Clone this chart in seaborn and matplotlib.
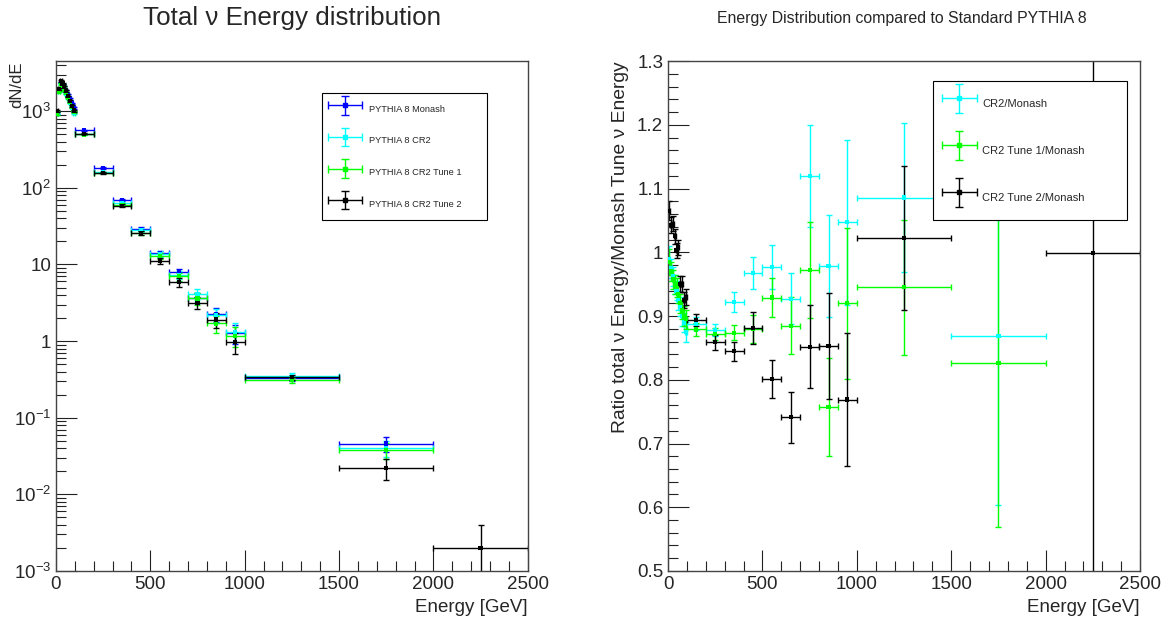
import numpy as np
import matplotlib
matplotlib.use("Agg")
import matplotlib.pyplot as plt
from matplotlib.ticker import LogLocator, MultipleLocator, FixedLocator, FuncFormatter, NullFormatter
from matplotlib.container import ErrorbarContainer
from matplotlib.legend_handler import HandlerErrorbar
import seaborn as sns
import pandas as pd

nan = np.nan

#################################################
#   DATA   --------------------------------------
#################################################
energy = [5, 15, 25, 35, 45, 55, 65, 75, 85, 95,
          150, 250, 350, 450, 550, 650, 750, 850, 950,
          1250, 1750, 2250]
half_width = [5, 5, 5, 5, 5, 5, 5, 5, 5, 5,
              50, 50, 50, 50, 50, 50, 50, 50, 50,
              250, 250, 250]

# dN/dE per generator setting
monash = [950, 1870, 2370, 2240, 2070, 1840, 1640, 1440, 1260, 1100,
          565, 181, 69, 29, 14, 7.9, 3.7, 2.24, 1.27, 0.33, 0.046, nan]
cr2 = [940, 1820, 2280, 2130, 1950, 1700, 1500, 1300, 1120, 960,
       502, 159, 63.6, 28, 13.7, 7.3, 4.1, 2.19, 1.33, 0.355, 0.040, nan]
cr2_tune1 = [935, 1810, 2270, 2130, 1960, 1720, 1510, 1310, 1135, 985,
             497, 158, 60.3, 25.5, 13.0, 7.0, 3.6, 1.70, 1.17, 0.31, 0.038, nan]
cr2_tune2 = [1010, 1950, 2480, 2300, 2080, 1850, 1560, 1370, 1170, 1020,
             505, 155, 58.3, 25.5, 11.2, 5.85, 3.15, 1.91, 0.98, 0.337, 0.022, 0.002]

monash_err = [30, 42, 48, 46, 45, 42, 40, 37, 35, 33,
              7.5, 4.2, 2.6, 1.7, 1.2, 0.9, 0.6, 0.47, 0.36, 0.025, 0.010, nan]
cr2_err = [30, 42, 47, 45, 44, 41, 38, 36, 33, 31,
           7.1, 4.0, 2.5, 1.7, 1.2, 0.85, 0.64, 0.47, 0.37, 0.026, 0.0095, nan]
cr2_tune1_err = [30, 42, 47, 45, 44, 41, 38, 36, 33, 31,
                 7.0, 4.0, 2.5, 1.6, 1.1, 0.84, 0.6, 0.41, 0.34, 0.024, 0.009, nan]
cr2_tune2_err = [31, 44, 50, 48, 45, 43, 39, 37, 34, 32,
                 7.1, 3.9, 2.4, 1.6, 1.1, 0.76, 0.56, 0.44, 0.31, 0.025, 0.0065, 0.002]

# ratios to Monash
ratio_cr2 = [0.99, 0.975, 0.962, 0.95, 0.94, 0.925, 0.915, 0.90, 0.89, 0.875,
             0.888, 0.878, 0.922, 0.967, 0.977, 0.927, 1.12, 0.978, 1.047,
             1.086, 0.869, nan]
ratio_tune1 = [0.985, 0.97, 0.958, 0.95, 0.945, 0.935, 0.92, 0.91, 0.90, 0.895,
               0.879, 0.872, 0.874, 0.88, 0.929, 0.885, 0.972, 0.757, 0.92,
               0.945, 0.826, nan]
ratio_tune2 = [1.065, 1.043, 1.045, 1.025, 1.003, 1.008, 0.95, 0.95, 0.925, 0.93,
               0.894, 0.859, 0.845, 0.881, 0.801, 0.741, 0.852, 0.853, 0.769,
               1.023, nan, 0.999]

ratio_cr2_err = [0.02, 0.015, 0.015, 0.015, 0.015, 0.015, 0.015, 0.015, 0.015, 0.015,
                 0.01, 0.01, 0.015, 0.025, 0.035, 0.04, 0.08, 0.08, 0.13,
                 0.117, 0.265, nan]
ratio_tune1_err = [0.02, 0.015, 0.015, 0.015, 0.015, 0.015, 0.015, 0.015, 0.015, 0.015,
                   0.01, 0.01, 0.012, 0.022, 0.03, 0.045, 0.075, 0.077, 0.118,
                   0.106, 0.257, nan]
ratio_tune2_err = [0.015, 0.012, 0.012, 0.012, 0.012, 0.012, 0.013, 0.013, 0.013, 0.013,
                   0.01, 0.012, 0.015, 0.025, 0.03, 0.04, 0.065, 0.083, 0.105,
                   0.113, nan, 1.0]

left_names = ["PYTHIA 8 Monash", "PYTHIA 8 CR2", "PYTHIA 8 CR2 Tune 1", "PYTHIA 8 CR2 Tune 2"]
left_colors = ["#0000ff", "#00ffff", "#00ff00", "#000000"]
right_names = ["CR2/Monash", "CR2 Tune 1/Monash", "CR2 Tune 2/Monash"]
right_colors = ["#00ffff", "#00ff00", "#000000"]
log_ticks = [1e-3, 1e-2, 1e-1, 1, 10, 100, 1000]

#################################################
#   STYLE    -------------------------------------
#################################################
sns.set_style("ticks")
plt.rcParams['font.family'] = ['Liberation Sans', 'DejaVu Sans']
plt.rcParams['mathtext.fontset'] = 'custom'
plt.rcParams['mathtext.rm'] = 'Liberation Sans'
plt.rcParams['mathtext.it'] = 'Liberation Sans:italic'
plt.rcParams['axes.edgecolor'] = '#444444'
plt.rcParams['axes.linewidth'] = 1.0


def root_ticks(ax):
    ax.tick_params(which='both', direction='in', top=False, right=False,
                   color='#222222', width=0.8, labelsize=13.5)
    ax.tick_params(which='major', length=15)
    ax.tick_params(which='minor', length=7.5)


def draw_series(ax, y_lists, err_lists, names, colors):
    frames = []
    for y, e, name, c in zip(y_lists, err_lists, names, colors):
        ax.errorbar(energy, y, xerr=half_width, yerr=e, fmt='none',
                    ecolor=c, elinewidth=1.0, capsize=2, capthick=1.0, zorder=2)
        # proxy for the legend entry
        ax.errorbar([nan], [nan], xerr=[1], yerr=[1], fmt='s', color=c,
                    ms=3, elinewidth=1.0, capsize=3, capthick=1.0, label=name)
        frames.append(pd.DataFrame({'energy': energy, 'value': y, 'series': name}))
    df = pd.concat(frames, ignore_index=True).dropna()
    sns.scatterplot(data=df, x='energy', y='value', hue='series',
                    palette=dict(zip(names, colors)), hue_order=names,
                    marker='s', s=9, linewidth=0, legend=False, ax=ax, zorder=3)


fig = plt.figure(figsize=(11.65, 6.24), dpi=100)
ax1 = fig.add_axes([0.048, 0.085, 0.405, 0.817])
ax2 = fig.add_axes([0.5734, 0.085, 0.4052, 0.817])

#################################################
#   LEFT: dN/dE    -------------------------------
#################################################
draw_series(ax1, [monash, cr2, cr2_tune1, cr2_tune2],
            [monash_err, cr2_err, cr2_tune1_err, cr2_tune2_err],
            left_names, left_colors)
ax1.set_yscale('log')
ax1.set_xlim(0, 2500)
ax1.set_ylim(1e-3, 4500)
ax1.xaxis.set_major_locator(MultipleLocator(500))
ax1.xaxis.set_minor_locator(MultipleLocator(100))
ax1.yaxis.set_major_locator(FixedLocator(log_ticks))
ax1.yaxis.set_minor_locator(LogLocator(base=10, subs=np.arange(2, 10), numticks=20))
ax1.yaxis.set_minor_formatter(NullFormatter())


def log_fmt(v, pos):
    k = int(round(np.log10(v)))
    if k == 0:
        return '1'
    if k == 1:
        return '10'
    return r'$10^{%d}$' % k


ax1.yaxis.set_major_formatter(FuncFormatter(log_fmt))
root_ticks(ax1)
ax1.set_xlabel('Energy [GeV]', fontsize=13.5, loc='right')
ax1.set_ylabel('dN/dE', fontsize=12, loc='top')
ax1.yaxis.set_label_coords(-0.068, 1.0)
ax1.xaxis.set_label_coords(1.0, -0.055)

leg1 = ax1.legend(loc='upper left', bbox_to_anchor=(0.564, 0.5, 0.3496, 0.437),
                  mode='expand', fontsize=6.7,
                  frameon=True, fancybox=False, edgecolor='black', framealpha=1,
                  labelspacing=1.2, handlelength=3.7, handleheight=3.0,
                  borderpad=0.6, handletextpad=0.8, borderaxespad=0,
                  handler_map={ErrorbarContainer: HandlerErrorbar(xerr_size=1.85, yerr_size=1.0)})
leg1.get_frame().set_linewidth(0.8)

#################################################
#   RIGHT: ratios    -----------------------------
#################################################
draw_series(ax2, [ratio_cr2, ratio_tune1, ratio_tune2],
            [ratio_cr2_err, ratio_tune1_err, ratio_tune2_err],
            right_names, right_colors)
ax2.set_xlim(0, 2500)
ax2.set_ylim(0.5, 1.3)
ax2.xaxis.set_major_locator(MultipleLocator(500))
ax2.xaxis.set_minor_locator(MultipleLocator(100))
ax2.yaxis.set_major_locator(MultipleLocator(0.1))
ax2.yaxis.set_minor_locator(MultipleLocator(0.02))
ax2.yaxis.set_major_formatter(FuncFormatter(lambda v, p: '%g' % round(v, 2)))
root_ticks(ax2)
ax2.set_xlabel('Energy [GeV]', fontsize=13.5, loc='right')
ax2.set_ylabel('Ratio total \u03bd Energy/Monash Tune \u03bd Energy', fontsize=13.9, loc='top')
ax2.yaxis.set_label_coords(-0.082, 1.0)
ax2.xaxis.set_label_coords(1.0, -0.055)

leg2 = ax2.legend(loc='upper left', bbox_to_anchor=(0.5614, 0.5, 0.411, 0.461),
                  mode='expand', fontsize=8,
                  frameon=True, fancybox=False, edgecolor='black', framealpha=1,
                  labelspacing=1.77, handlelength=3.15, handleheight=3.4,
                  borderpad=0.8, handletextpad=0.45, borderaxespad=0,
                  handler_map={ErrorbarContainer: HandlerErrorbar(xerr_size=1.55, yerr_size=1.3)})
leg2.get_frame().set_linewidth(0.8)
leg2.set_zorder(10)

fig.text(0.251, 0.971, 'Total \u03bd Energy distribution', fontsize=18.7,
         ha='center', va='center')
fig.text(0.774, 0.971, 'Energy Distribution compared to Standard PYTHIA 8', fontsize=11.4,
         ha='center', va='center')

fig.savefig('out.png', dpi=100)
